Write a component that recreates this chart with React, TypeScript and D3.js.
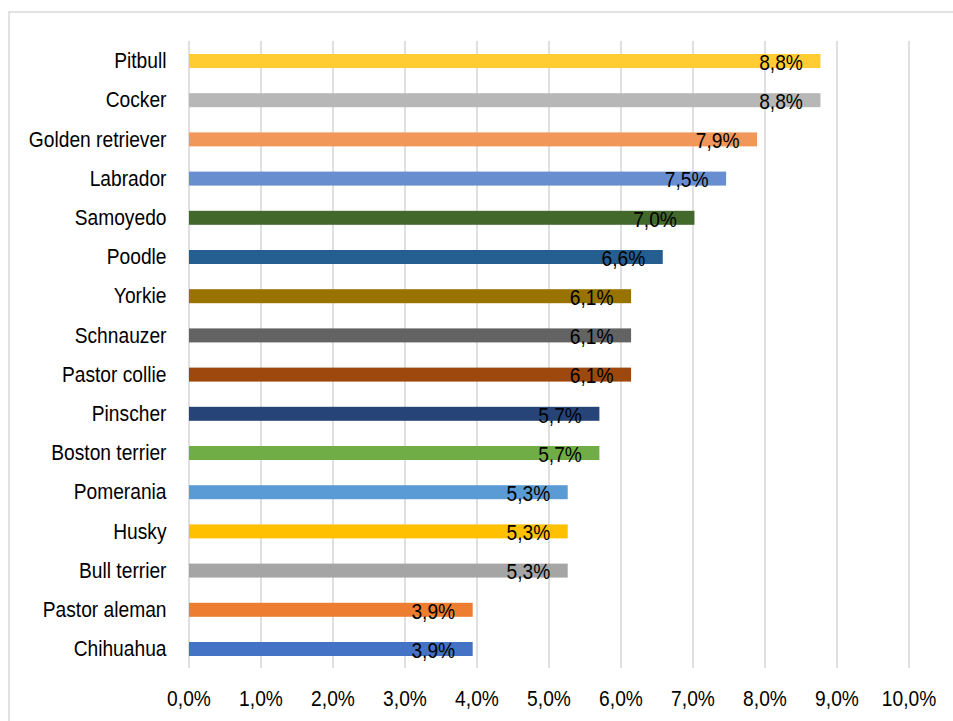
import React from "react";
import * as d3 from "d3";

// Breeds, listed top to bottom
const breeds: string[] = [
  "Pitbull",
  "Cocker",
  "Golden retriever",
  "Labrador",
  "Samoyedo",
  "Poodle",
  "Yorkie",
  "Schnauzer",
  "Pastor collie",
  "Pinscher",
  "Boston terrier",
  "Pomerania",
  "Husky",
  "Bull terrier",
  "Pastor aleman",
  "Chihuahua",
];

// Share of each breed (percent)
const shares: number[] = [
  8.77, 8.77, 7.89, 7.46, 7.02, 6.58, 6.14, 6.14, 6.14, 5.7, 5.7, 5.26, 5.26,
  5.26, 3.94, 3.94,
];

const barColors: string[] = [
  "#FFCD33",
  "#B7B7B7",
  "#F1975A",
  "#698ED0",
  "#43682B",
  "#255E91",
  "#997300",
  "#636363",
  "#9E480E",
  "#264478",
  "#70AD47",
  "#5B9BD5",
  "#FFC000",
  "#A5A5A5",
  "#ED7D31",
  "#4472C4",
];

const axisTicks: number[] = [0, 1, 2, 3, 4, 5, 6, 7, 8, 9, 10];

const W = 953;
const H = 721;
const FONT = "'Liberation Sans', Arial, sans-serif";
const FONT_SIZE = 19.2;
// glyphs are drawn slightly taller than wide
const STRETCH_Y = 1.15;

const fmt = (v: number) => v.toFixed(1).replace(".", ",") + "%";

type LabelProps = {
  x: number;
  y: number;
  anchor: "start" | "middle" | "end";
  children: React.ReactNode;
};

function Label({ x, y, anchor, children }: LabelProps) {
  return (
    <text
      transform={`translate(${x},${y}) scale(1,${STRETCH_Y})`}
      textAnchor={anchor}
      fontFamily={FONT}
      fontSize={FONT_SIZE}
      fill="#000"
    >
      {children}
    </text>
  );
}

export default function App() {
  const x = d3.scaleLinear().domain([0, 10]).range([189, 909]);
  const y = d3
    .scaleBand<string>()
    .domain(breeds)
    .range([41.4, 668.6])
    .paddingInner(0.643)
    .paddingOuter(0.3215);

  const bw = y.bandwidth();

  return (
    <svg
      width={W}
      height={H}
      style={{ position: "fixed", left: 0, top: 0, display: "block", background: "#fff" }}
    >
      <rect x={0} y={0} width={W} height={H} fill="#fff" />
      {/* chart frame */}
      <rect
        x={9}
        y={12}
        width={W + 20}
        height={H + 20}
        fill="none"
        stroke="#d9d9d9"
        strokeWidth={1.5}
      />

      {/* vertical gridlines */}
      {axisTicks.map((t) => (
        <line
          key={"g" + t}
          x1={x(t)}
          x2={x(t)}
          y1={41}
          y2={668}
          stroke="#d9d9d9"
          strokeWidth={1.6}
        />
      ))}

      {/* bars */}
      {breeds.map((b, i) => (
        <rect
          key={"b" + b}
          x={x(0)}
          y={y(b)!}
          width={x(shares[i]) - x(0)}
          height={bw}
          fill={barColors[i]}
        />
      ))}

      {/* category labels */}
      {breeds.map((b) => (
        <Label key={"c" + b} x={166.5} y={y(b)! + bw / 2 + 7.2} anchor="end">
          {b}
        </Label>
      ))}

      {/* value labels */}
      {breeds.map((b, i) => (
        <Label
          key={"v" + b}
          x={x(shares[i]) - 17.5}
          y={y(b)! + bw / 2 + 8.8}
          anchor="end"
        >
          {fmt(shares[i])}
        </Label>
      ))}

      {/* x-axis tick labels */}
      {axisTicks.map((t) => (
        <Label key={"t" + t} x={x(t)} y={706} anchor="middle">
          {fmt(t)}
        </Label>
      ))}
    </svg>
  );
}
